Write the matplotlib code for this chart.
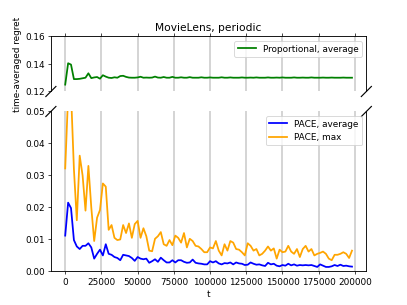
import numpy as np
import matplotlib
matplotlib.use("Agg")
import matplotlib.pyplot as plt

t = list(range(0, 200000, 2000))

prop_avg = [0.125, 0.1405, 0.1395, 0.1290, 0.1290, 0.1292, 0.1296, 0.1300, 0.1332, 0.1297,
            0.1302, 0.1305, 0.1293, 0.1318, 0.1308, 0.1300, 0.1298, 0.1303, 0.1300, 0.1312,
            0.1314, 0.1306, 0.1301, 0.1300, 0.1300, 0.1302, 0.1307, 0.1300, 0.1301, 0.1300,
            0.1301, 0.1308, 0.1301, 0.1300, 0.1305, 0.1300, 0.1300, 0.1306, 0.1300, 0.1300,
            0.1303, 0.1300, 0.1300, 0.1304, 0.1300, 0.1300, 0.1300, 0.1303, 0.1300, 0.1300,
            0.1302, 0.1300, 0.1300, 0.1300, 0.1303, 0.1300, 0.1300, 0.1302, 0.1300, 0.1300,
            0.1300, 0.1302, 0.1300, 0.1300, 0.1301, 0.1300, 0.1302, 0.1300, 0.1300, 0.1300,
            0.1302, 0.1300, 0.1300, 0.1301, 0.1300, 0.1302, 0.1300, 0.1300, 0.1300, 0.1302,
            0.1300, 0.1300, 0.1301, 0.1300, 0.1300, 0.1302, 0.1300, 0.1300, 0.1300, 0.1301,
            0.1300, 0.1300, 0.1301, 0.1300, 0.1300, 0.1300, 0.1301, 0.1300, 0.1300, 0.1300]

pace_avg = [0.0112, 0.0215, 0.0198, 0.0098, 0.0078, 0.0070, 0.0080, 0.0080, 0.0088, 0.0075,
            0.0040, 0.0055, 0.0068, 0.0050, 0.0085, 0.0055, 0.0052, 0.0045, 0.0042, 0.0035,
            0.0052, 0.0050, 0.0048, 0.0042, 0.0033, 0.0045, 0.0040, 0.0038, 0.0040, 0.0027,
            0.0032, 0.0038, 0.0030, 0.0043, 0.0035, 0.0028, 0.0028, 0.0035, 0.0028, 0.0035,
            0.0035, 0.0030, 0.0027, 0.0028, 0.0037, 0.0027, 0.0025, 0.0024, 0.0022, 0.0022,
            0.0032, 0.0028, 0.0032, 0.0025, 0.0022, 0.0026, 0.0025, 0.0028, 0.0022, 0.0028,
            0.0025, 0.0024, 0.0020, 0.0021, 0.0028, 0.0024, 0.0021, 0.0022, 0.0019, 0.0017,
            0.0027, 0.0022, 0.0024, 0.0018, 0.0016, 0.0020, 0.0018, 0.0024, 0.0019, 0.0022,
            0.0018, 0.0020, 0.0019, 0.0020, 0.0019, 0.0020, 0.0017, 0.0014, 0.0022, 0.0018,
            0.0014, 0.0014, 0.0016, 0.0020, 0.0017, 0.0021, 0.0017, 0.0018, 0.0016, 0.0015]

pace_max = [0.0322, 0.0550, 0.0560, 0.0320, 0.0160, 0.0362, 0.0300, 0.0190, 0.0330, 0.0200,
            0.0095, 0.0168, 0.0192, 0.0275, 0.0265, 0.0130, 0.0145, 0.0105, 0.0098, 0.0100,
            0.0145, 0.0120, 0.0150, 0.0105, 0.0148, 0.0158, 0.0105, 0.0135, 0.0110, 0.0065,
            0.0063, 0.0102, 0.0110, 0.0123, 0.0085, 0.0080, 0.0098, 0.0082, 0.0112, 0.0105,
            0.0090, 0.0120, 0.0075, 0.0102, 0.0095, 0.0080, 0.0078, 0.0070, 0.0060, 0.0060,
            0.0075, 0.0072, 0.0095, 0.0065, 0.0050, 0.0085, 0.0065, 0.0095, 0.0090, 0.0070,
            0.0068, 0.0060, 0.0050, 0.0088, 0.0080, 0.0065, 0.0070, 0.0050, 0.0055, 0.0065,
            0.0078, 0.0065, 0.0072, 0.0040, 0.0068, 0.0060, 0.0062, 0.0080, 0.0062, 0.0055,
            0.0070, 0.0045, 0.0070, 0.0080, 0.0062, 0.0070, 0.0050, 0.0055, 0.0058, 0.0062,
            0.0055, 0.0040, 0.0035, 0.0052, 0.0052, 0.0055, 0.0060, 0.0055, 0.0042, 0.0065]

plt.rcParams['axes.linewidth'] = 1.0
fig = plt.figure(figsize=(6.4, 4.8), dpi=63.6)
gs = fig.add_gridspec(2, 1, height_ratios=[1, 2.9], hspace=0.186)
ax = fig.add_subplot(gs[0])
ax2 = fig.add_subplot(gs[1], sharex=ax)

lw = 2.0
ax.plot(t, prop_avg, color='green', linewidth=lw, label='Proportional, average')
ax2.plot(t, pace_avg, color='blue', linewidth=lw, label='PACE, average')
ax2.plot(t, pace_max, color='orange', linewidth=lw, label='PACE, max')

ax.set_ylim(0.12, 0.16)
ax2.set_ylim(0, 0.05)
ax.set_yticks([0.12, 0.14, 0.16])

ax.spines['bottom'].set_visible(False)
ax2.spines['top'].set_visible(False)
ax.xaxis.tick_top()
ax.tick_params(labeltop=False)
ax2.xaxis.tick_bottom()

for a in (ax, ax2):
    a.grid(axis='x', color='#c8c8c8', linewidth=1.7)

ax.legend(loc='upper right')
ax2.legend(loc='upper right')
ax.set_title('MovieLens, periodic')
ax.set_ylabel('time-averaged regret')
ax2.set_xlabel('t')

# diagonal break marks (45 degrees in pixels)
d = 0.016
w = 0.775
h1 = ax.get_position().height
h2 = ax2.get_position().height
dy1 = d * w * 6.4 / (h1 * 4.8)
dy2 = d * w * 6.4 / (h2 * 4.8)
kw = dict(transform=ax.transAxes, color='k', clip_on=False, linewidth=1.3)
ax.plot((-d, d), (-dy1, dy1), **kw)
ax.plot((1 - d, 1 + d), (-dy1, dy1), **kw)
kw.update(transform=ax2.transAxes)
ax2.plot((-d, d), (1 - dy2, 1 + dy2), **kw)
ax2.plot((1 - d, 1 + d), (1 - dy2, 1 + dy2), **kw)

fig.savefig('out.png', dpi=63.6)
